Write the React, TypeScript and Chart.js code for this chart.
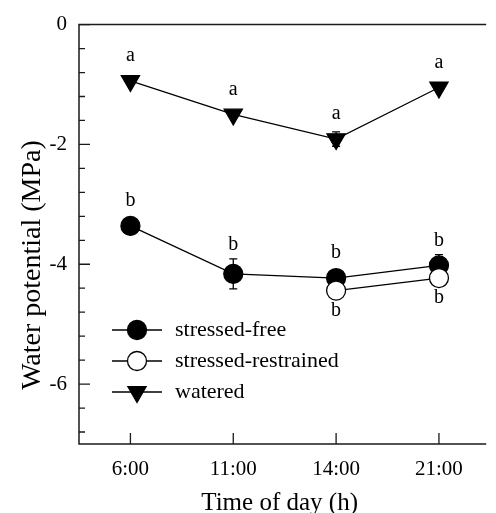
import { useEffect, useRef } from 'react';
import { Chart, registerables } from 'chart.js';

Chart.register(...registerables);

const categories = ['6:00', '11:00', '14:00', '21:00'];
const freeValues: (number | null)[] = [-3.36, -4.16, -4.23, -4.02];
const freeErrors = [0, 0.25, 0, 0.18];
const freeLetters = ['b', 'b', 'b', 'b'];
const restrainedValues: (number | null)[] = [null, null, -4.44, -4.23];
const restrainedErrors = [0, 0, 0, 0];
const restrainedLetters = ['', '', 'b', 'b'];
const wateredValues: (number | null)[] = [-0.94, -1.5, -1.91, -1.05];
const wateredErrors = [0, 0, 0.12, 0];
const wateredLetters = ['a', 'a', 'a', 'a'];
const seriesNames = ['stressed-free', 'stressed-restrained', 'watered'];
const yMajorTicks = [0, -2, -4, -6];
const yTickLabels = ['0', '-2', '-4', '-6'];
const yMinorStep = 0.4;
const yMin = -7;
const yMax = 0;
const xTitle = 'Time of day (h)';
const yTitle = 'Water potential (MPa)';

const FONT = '"Liberation Serif", "Times New Roman", serif';

type Meta = { errors: number[]; letters: string[]; below: boolean };
const metas: Meta[] = [
  { errors: freeErrors, letters: freeLetters, below: false },
  { errors: restrainedErrors, letters: restrainedLetters, below: true },
  { errors: wateredErrors, letters: wateredLetters, below: false },
];

const toPoints = (vals: (number | null)[]) => vals.map((v, i) => ({ x: i + 1, y: v }));

function drawMarker(ctx: CanvasRenderingContext2D, kind: string, x: number, y: number) {
  ctx.save();
  ctx.lineWidth = 1.3;
  ctx.strokeStyle = '#000';
  ctx.beginPath();
  if (kind === 'triangle') {
    const r = 10.5;
    for (let k = 0; k < 3; k++) {
      const a = Math.PI + (k * 2 * Math.PI) / 3;
      const px = x + Math.sin(a) * r;
      const py = y - Math.cos(a) * r;
      if (k === 0) ctx.moveTo(px, py);
      else ctx.lineTo(px, py);
    }
    ctx.closePath();
    ctx.fillStyle = '#000';
  } else {
    ctx.arc(x, y, 9.5, 0, Math.PI * 2);
    ctx.fillStyle = kind === 'open' ? '#fff' : '#000';
  }
  ctx.fill();
  ctx.stroke();
  ctx.restore();
}

const decor = {
  id: 'decor',
  beforeDatasetsDraw(chart: any) {
    const { ctx } = chart;
    const xs = chart.scales.x;
    const ys = chart.scales.y;
    ctx.save();
    ctx.strokeStyle = '#000';
    ctx.lineWidth = 1.3;
    chart.data.datasets.forEach((ds: any, di: number) => {
      const m = metas[di];
      ds.data.forEach((pt: any, i: number) => {
        const e = m.errors[i];
        if (pt.y == null || !e) return;
        const x = xs.getPixelForValue(pt.x);
        const y1 = ys.getPixelForValue(pt.y + e);
        const y2 = ys.getPixelForValue(pt.y - e);
        ctx.beginPath();
        ctx.moveTo(x, y1);
        ctx.lineTo(x, y2);
        ctx.moveTo(x - 4, y1);
        ctx.lineTo(x + 4, y1);
        ctx.moveTo(x - 4, y2);
        ctx.lineTo(x + 4, y2);
        ctx.stroke();
      });
    });
    ctx.restore();
  },
  afterDatasetsDraw(chart: any) {
    const { ctx } = chart;
    const xs = chart.scales.x;
    const ys = chart.scales.y;
    ctx.save();
    ctx.fillStyle = '#000';
    ctx.font = `20px ${FONT}`;
    ctx.textAlign = 'center';
    ctx.textBaseline = 'middle';
    chart.data.datasets.forEach((ds: any, di: number) => {
      const m = metas[di];
      ds.data.forEach((pt: any, i: number) => {
        const letter = m.letters[i];
        if (pt.y == null || !letter) return;
        const x = xs.getPixelForValue(pt.x);
        const yp = ys.getPixelForValue(pt.y);
        if (m.below) {
          ctx.fillText(letter, x, yp + 20);
        } else {
          const errTop = ys.getPixelForValue(pt.y + (m.errors[i] || 0));
          const top = Math.min(errTop, yp - 11);
          ctx.fillText(letter, x, top - 14);
        }
      });
    });
    ctx.restore();
  },
  afterDraw(chart: any) {
    const { ctx, chartArea } = chart;
    const { left, right, top, bottom } = chartArea;
    const xs = chart.scales.x;
    const ys = chart.scales.y;
    ctx.save();
    ctx.strokeStyle = '#1a1a1a';
    ctx.lineWidth = 1.5;
    ctx.beginPath();
    ctx.moveTo(right + 2, top);
    ctx.lineTo(left, top);
    ctx.lineTo(left, bottom);
    ctx.lineTo(right + 2, bottom);
    ctx.stroke();
    // inward ticks
    ctx.lineWidth = 1.3;
    ctx.beginPath();
    for (let v = yMax; v >= yMin + 1e-9; v -= yMinorStep) {
      const vv = Math.round(v * 10) / 10;
      const y = ys.getPixelForValue(vv);
      const major = yMajorTicks.some((t) => Math.abs(t - vv) < 1e-6);
      ctx.moveTo(left, y);
      ctx.lineTo(left + (major ? 11 : 6), y);
    }
    categories.forEach((_, i) => {
      const x = xs.getPixelForValue(i + 1);
      ctx.moveTo(x, bottom);
      ctx.lineTo(x, bottom - 11);
    });
    ctx.stroke();

    // axis titles
    ctx.fillStyle = '#000';
    ctx.font = `25px ${FONT}`;
    ctx.textAlign = 'center';
    ctx.textBaseline = 'alphabetic';
    ctx.fillText(xTitle, (left + right) / 2 - 2, 510);
    ctx.save();
    ctx.translate(40, 265);
    ctx.rotate(-Math.PI / 2);
    ctx.font = `28px ${FONT}`;
    ctx.fillText(yTitle, 0, 0);
    ctx.restore();

    // legend
    const kinds = ['filled', 'open', 'triangle'];
    const lx = left + 33;
    const ly = bottom - 114;
    ctx.font = `22px ${FONT}`;
    ctx.textAlign = 'left';
    ctx.textBaseline = 'middle';
    seriesNames.forEach((name, i) => {
      const y = ly + i * 31;
      ctx.strokeStyle = '#000';
      ctx.lineWidth = 1.3;
      ctx.beginPath();
      ctx.moveTo(lx, y);
      ctx.lineTo(lx + 50, y);
      ctx.stroke();
      drawMarker(ctx, kinds[i], lx + 25, y);
      ctx.fillStyle = '#000';
      ctx.fillText(name, lx + 63, y);
    });
    ctx.restore();
  },
};

export default function App() {
  const ref = useRef<HTMLCanvasElement | null>(null);
  useEffect(() => {
    if (!ref.current) return;
    const common = {
      borderColor: '#000',
      borderWidth: 1.3,
      pointBorderColor: '#000',
      pointBorderWidth: 1.3,
      tension: 0,
    };
    const chart = new Chart(ref.current, {
      type: 'line',
      data: {
        datasets: [
          {
            ...common,
            label: seriesNames[0],
            data: toPoints(freeValues),
            pointStyle: 'circle',
            pointRadius: 9.5,
            pointBackgroundColor: '#000',
            order: 1,
          },
          {
            ...common,
            label: seriesNames[1],
            data: toPoints(restrainedValues),
            pointStyle: 'circle',
            pointRadius: 9.5,
            pointBackgroundColor: '#fff',
            order: 0,
          },
          {
            ...common,
            label: seriesNames[2],
            data: toPoints(wateredValues),
            pointStyle: 'triangle',
            pointRotation: 180,
            pointRadius: 10.5,
            pointBackgroundColor: '#000',
            order: 2,
          },
        ] as any,
      },
      options: {
        animation: false,
        responsive: true,
        maintainAspectRatio: false,
        layout: { padding: { top: 18, right: 0, left: 0, bottom: 0 } },
        plugins: { legend: { display: false }, tooltip: { enabled: false } },
        elements: { point: { hoverRadius: 9.5 } },
        scales: {
          x: {
            type: 'linear',
            min: 0.5,
            max: 4.44,
            grid: { display: false, drawTicks: false },
            border: { display: false },
            afterFit: (s: any) => {
              s.height = 69;
            },
            afterBuildTicks: (s: any) => {
              s.ticks = categories.map((_, i) => ({ value: i + 1 }));
            },
            ticks: {
              autoSkip: false,
              maxRotation: 0,
              padding: 13,
              color: '#000',
              font: { family: FONT, size: 21 },
              callback: (v: any) => categories[Number(v) - 1] ?? '',
            },
          },
          y: {
            type: 'linear',
            min: yMin,
            max: yMax,
            grid: { display: false, drawTicks: false },
            border: { display: false },
            afterFit: (s: any) => {
              s.width = 79;
            },
            afterBuildTicks: (s: any) => {
              s.ticks = yMajorTicks.map((v) => ({ value: v }));
            },
            ticks: {
              padding: 12,
              color: '#000',
              font: { family: FONT, size: 21 },
              callback: (v: any) => {
                const idx = yMajorTicks.indexOf(Number(v));
                return idx >= 0 ? yTickLabels[idx] : '';
              },
            },
          },
        },
      } as any,
      plugins: [decor],
    });
    return () => chart.destroy();
  }, []);
  return (
    <div style={{ position: 'absolute', left: 0, top: 0, width: 496, height: 513, background: '#fff' }}>
      <canvas ref={ref} />
    </div>
  );
}
